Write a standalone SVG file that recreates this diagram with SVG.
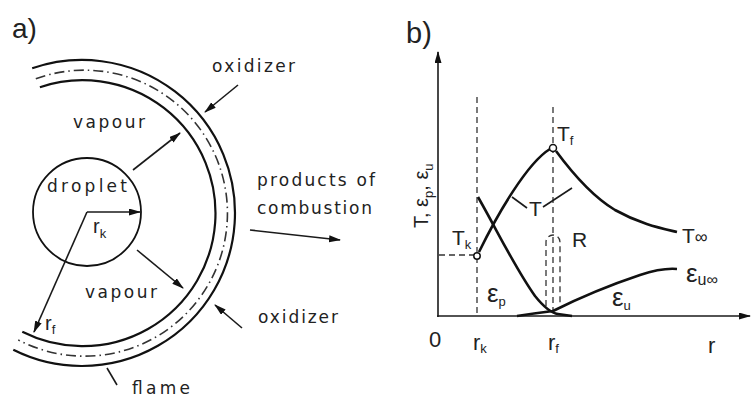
<svg xmlns="http://www.w3.org/2000/svg" width="753" height="398" viewBox="0 0 753 398">
<style>
text{font-family:"Liberation Sans","DejaVu Sans",Arial,sans-serif;fill:#222}
.la{font-family:"DejaVu Sans","Liberation Sans",sans-serif;font-size:17px}
.lb{font-size:21px}
.sub{font-size:13px}
.ln{fill:none;stroke:#1a1a1a;stroke-width:1.6}
.thick{fill:none;stroke:#111;stroke-width:2.6}
.arc{fill:none;stroke:#111;stroke-width:2.2}
.dd{fill:none;stroke:#333;stroke-width:1.6;stroke-dasharray:10 4 1.5 4}
.dash{fill:none;stroke:#333;stroke-width:1.3;stroke-dasharray:6 4}
.pt{fill:#fff;stroke:#111;stroke-width:1.5}
</style>
<defs>
<marker id="ah" markerUnits="userSpaceOnUse" markerWidth="12" markerHeight="8" refX="11" refY="3.5" orient="auto">
<path d="M0,0 L12,3.5 L0,7 z" fill="#111"/>
</marker>
</defs>

<g id="panel-a">
<text x="12" y="38" style="font-size:28px">a)</text>
<g id="flame">
<path class="arc" d="M32.2,68.3 A153,153 0 1 1 13.3,349.7"/>
<path class="dd" d="M35.8,78.7 A143,143 0 1 1 18.2,339.9"/>
<path class="arc" d="M39.9,87.2 A133,133 0 1 1 22.3,331.8"/>
</g>
<g id="droplet">
<circle cx="87" cy="212" r="54" fill="none" stroke="#111" stroke-width="1.8"/>
<text class="la" x="47" y="192" textLength="80" lengthAdjust="spacing">droplet</text>
</g>
<g id="connectors-a">
<line class="ln" x1="87" y1="212" x2="140" y2="212" marker-end="url(#ah)"/>
<line class="ln" x1="87" y1="212" x2="34" y2="332" marker-end="url(#ah)"/>
<line class="ln" x1="133" y1="170" x2="180" y2="133" marker-end="url(#ah)"/>
<line class="ln" x1="137" y1="250" x2="183" y2="288" marker-end="url(#ah)"/>
<line class="ln" x1="238" y1="85" x2="205" y2="112" marker-end="url(#ah)"/>
<line class="ln" x1="242" y1="328" x2="215" y2="305" marker-end="url(#ah)"/>
<line class="ln" x1="250" y1="230" x2="340" y2="240" marker-end="url(#ah)"/>
<line class="ln" x1="107" y1="368" x2="117" y2="385"/>
</g>
<text class="la" x="212" y="72" textLength="83" lengthAdjust="spacing">oxidizer</text>
<text class="la" x="73" y="128" textLength="72" lengthAdjust="spacing">vapour</text>
<text class="la" x="257" y="186" textLength="118" lengthAdjust="spacing">products of</text>
<text class="la" x="257" y="214" textLength="115" lengthAdjust="spacing">combustion</text>
<text class="la" x="85" y="298" textLength="72" lengthAdjust="spacing">vapour</text>
<text class="la" x="258" y="323" textLength="80" lengthAdjust="spacing">oxidizer</text>
<text class="la" x="132" y="394" textLength="58" lengthAdjust="spacing">flame</text>
<text x="93" y="233" style="font-size:20px">r<tspan class="sub" dy="5">k</tspan></text>
<text x="45" y="330" style="font-size:20px">r<tspan class="sub" dy="4">f</tspan></text>
</g>

<g id="panel-b">
<text x="406" y="43" style="font-size:29px">b)</text>
<g id="axes">
<line class="ln" x1="438" y1="317" x2="438" y2="52" marker-end="url(#ah)" stroke-width="2"/>
<line class="ln" x1="437" y1="316" x2="750" y2="316" marker-end="url(#ah)" stroke-width="2"/>
</g>
<g id="guides">
<line class="dash" x1="477" y1="97" x2="477" y2="316"/>
<line class="dash" x1="553" y1="107" x2="553" y2="316"/>
<line class="dash" x1="439" y1="255" x2="474" y2="255"/>
<path class="dash" d="M546,306 L546,242 A7,7 0 0 1 560,242 L560,306"/>
</g>
<g id="curves">
<path class="thick" d="M479,252 C497,215 527,163 550,149"/>
<path class="thick" d="M556,151 C570,170 590,195 615,210 C640,224 660,228 677,232"/>
<path class="thick" d="M478,197 C498,232 515,268 535,296 C543,306 550,313 558,314 L572,316"/>
<path class="thick" d="M517,316 C530,314 545,312 553,311 C575,300 610,285 640,275 C655,270 665,268 677,269"/>
<line class="ln" x1="512" y1="197" x2="527" y2="208" stroke-width="1.2"/>
<line class="ln" x1="543" y1="207" x2="572" y2="188" stroke-width="1.2"/>
<circle class="pt" cx="477" cy="256" r="3.2"/>
<circle class="pt" cx="553" cy="148" r="3.5"/>
</g>
<g id="labels-b">
<text transform="translate(428,228) rotate(-90)" style="font-size:20px">T, ε<tspan class="sub" dy="5">p</tspan><tspan dy="-5">, ε</tspan><tspan class="sub" dy="5">u</tspan></text>
<text class="lb" x="557" y="141">T<tspan class="sub" dy="4">f</tspan></text>
<text class="lb" x="529" y="216">T</text>
<text class="lb" x="452" y="245">T<tspan class="sub" dy="4">k</tspan></text>
<text class="lb" x="682" y="243">T<tspan style="font-size:18px">∞</tspan></text>
<text class="lb" x="572" y="247">R</text>
<text x="686" y="282" style="font-size:26px">ε<tspan style="font-size:16px" dy="3">u∞</tspan></text>
<text x="487" y="302" style="font-size:26px">ε<tspan class="sub" dy="4">p</tspan></text>
<text x="612" y="306" style="font-size:26px">ε<tspan class="sub" dy="4">u</tspan></text>
<text x="429" y="347" style="font-size:22px">0</text>
<text x="473" y="350" style="font-size:22px">r<tspan class="sub" dy="3">k</tspan></text>
<text x="548" y="350" style="font-size:22px">r<tspan class="sub" dy="3">f</tspan></text>
<text x="708" y="353" style="font-size:22px">r</text>
</g>
</g>
</svg>
